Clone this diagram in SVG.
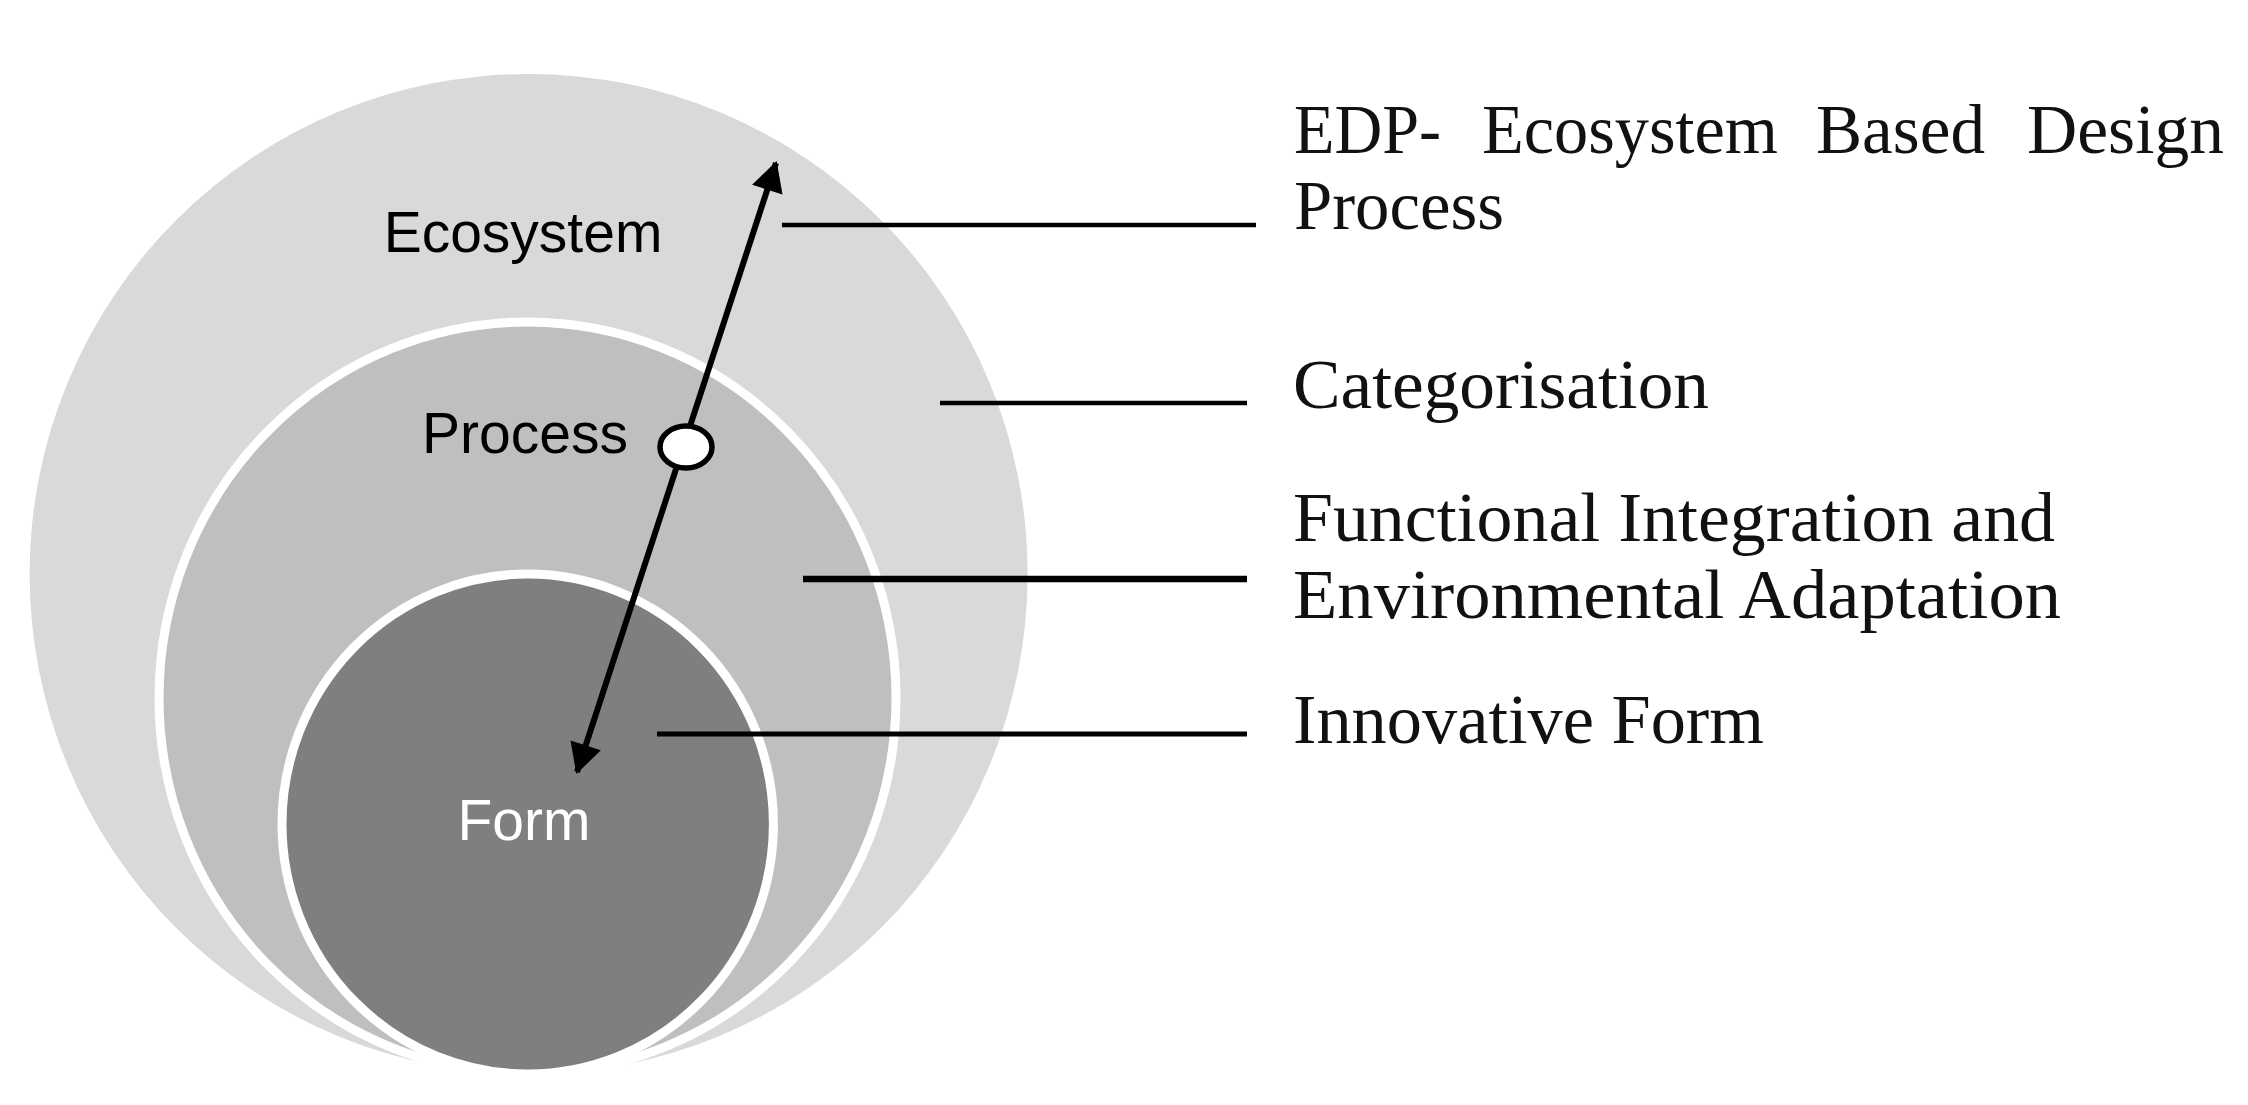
<svg xmlns="http://www.w3.org/2000/svg" width="2248" height="1105" viewBox="0 0 2248 1105">
<style>
.ring{stroke:#ffffff;stroke-width:9}
.lbl{font-family:"Liberation Sans",Arial,sans-serif;font-size:57px;text-anchor:middle}
.desc{font-family:"Liberation Serif","Times New Roman",serif;font-size:69px;fill:#111111}
.lead{stroke:#000000;fill:none}
</style>
<defs>
<marker id="ah" markerUnits="userSpaceOnUse" markerWidth="32" markerHeight="34" viewBox="0 -17 30 34" refX="28" refY="0" orient="auto-start-reverse">
<path d="M0,-16 L30,0 L0,16 z" fill="#000000"/>
</marker>
</defs>
<rect width="2248" height="1105" fill="#ffffff"/>
<g id="node-ecosystem">
<ellipse cx="528.6" cy="574" rx="499" ry="500" fill="#d9d9d9"/>
<text class="lbl" x="523" y="252" fill="#000000">Ecosystem</text>
</g>
<g id="node-process">
<ellipse class="ring" cx="527.5" cy="698" rx="368.5" ry="376" fill="#bfbfbf"/>
<text class="lbl" x="525" y="453" fill="#000000">Process</text>
</g>
<g id="node-form">
<ellipse class="ring" cx="527.7" cy="824" rx="245.7" ry="250" fill="#7f7f7f"/>
<text class="lbl" x="524" y="840" fill="#ffffff">Form</text>
</g>
<g id="connectors">
<line class="lead" x1="577" y1="772" x2="776" y2="163" stroke-width="6" marker-start="url(#ah)" marker-end="url(#ah)"/>
<ellipse cx="686" cy="447" rx="26" ry="21" fill="#ffffff" stroke="#000000" stroke-width="5.5"/>
<line class="lead" x1="782" y1="225" x2="1256" y2="225" stroke-width="4.5"/>
<line class="lead" x1="940" y1="403" x2="1247" y2="403" stroke-width="4.5"/>
<line class="lead" x1="803" y1="579" x2="1247" y2="579" stroke-width="6.5"/>
<line class="lead" x1="657" y1="734" x2="1247" y2="734" stroke-width="5"/>
</g>
<g id="label-edp">
<text class="desc" y="153"><tspan x="1294" textLength="147" lengthAdjust="spacingAndGlyphs">EDP-</tspan><tspan x="1482" textLength="296" lengthAdjust="spacingAndGlyphs">Ecosystem</tspan><tspan x="1816" textLength="169" lengthAdjust="spacingAndGlyphs">Based</tspan><tspan x="2027" textLength="197" lengthAdjust="spacingAndGlyphs">Design</tspan></text>
<text class="desc" x="1294" y="229" textLength="210" lengthAdjust="spacingAndGlyphs">Process</text>
</g>
<g id="label-categorisation">
<text class="desc" x="1293" y="408" textLength="416" lengthAdjust="spacingAndGlyphs">Categorisation</text>
</g>
<g id="label-functional">
<text class="desc" x="1293" y="541" textLength="762" lengthAdjust="spacingAndGlyphs">Functional Integration and</text>
<text class="desc" x="1293" y="618" textLength="768" lengthAdjust="spacingAndGlyphs">Environmental Adaptation</text>
</g>
<g id="label-form">
<text class="desc" x="1293" y="743" textLength="471" lengthAdjust="spacingAndGlyphs">Innovative Form</text>
</g>
</svg>
